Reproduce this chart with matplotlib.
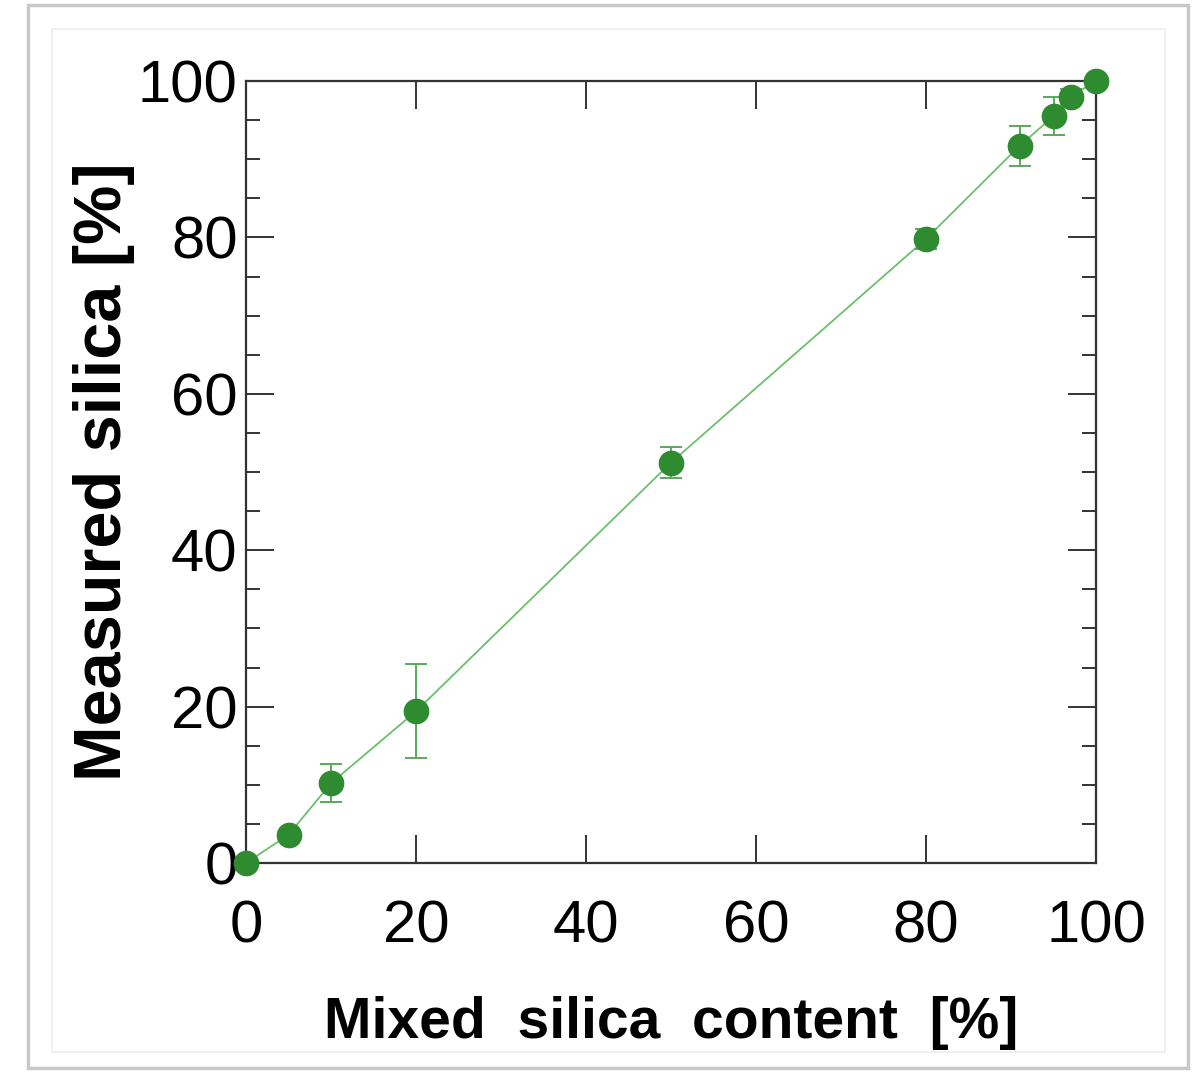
import matplotlib
matplotlib.use("Agg")
import matplotlib.pyplot as plt
from matplotlib.patches import Rectangle
from matplotlib.ticker import MultipleLocator

# Data
mixed = [0, 5, 10, 20, 50, 80, 91, 95, 97, 100]
measured = [0, 3.6, 10.2, 19.4, 51.2, 79.8, 91.7, 95.5, 98.0, 100]
err = [0, 0, 2.4, 6.0, 2.0, 1.3, 2.6, 2.4, 1.0, 0]

plt.rcParams['font.family'] = ['Liberation Sans', 'DejaVu Sans']

fig = plt.figure(figsize=(11.95, 10.74), dpi=100)

# frame round the figure
fig.patches.append(Rectangle((28/1195, 1-1068/1074), 1160/1195, 1063/1074,
                             transform=fig.transFigure, fill=False,
                             edgecolor='#c8c8c8', linewidth=2.5))
fig.patches.append(Rectangle((52/1195, 1-1052/1074), 1113/1195, 1023/1074,
                             transform=fig.transFigure, fill=False,
                             edgecolor='#eeeeee', linewidth=1.2))

ax = fig.add_axes([246/1195, 1-863/1074, 850/1195, 782/1074])

ax.plot(mixed, measured, color='#6cbf6c', linewidth=1.3, zorder=2)
ax.errorbar(mixed, measured, yerr=err, fmt='none', ecolor='#5aa85a',
            elinewidth=1.4, capsize=8, capthick=1.4, zorder=3)
ax.plot(mixed, measured, 'o', color='#2e8b30', markersize=18.5,
        markeredgewidth=0, clip_on=False, zorder=4)

ax.set_xlim(0, 100)
ax.set_ylim(0, 100)
ax.xaxis.set_major_locator(MultipleLocator(20))
ax.yaxis.set_major_locator(MultipleLocator(20))
ax.yaxis.set_minor_locator(MultipleLocator(5))

ax.tick_params(axis='both', which='both', direction='in', colors='#333333',
               labelcolor='black', top=True, right=True)
ax.tick_params(axis='both', which='major', length=20, width=1.4, labelsize=43)
ax.tick_params(axis='y', which='minor', length=10, width=1.4)
ax.tick_params(axis='x', which='major', pad=26)
ax.tick_params(axis='y', which='major', pad=6)

for s in ax.spines.values():
    s.set_linewidth(1.6)
    s.set_color('#333333')

ax.set_xlabel('Mixed  silica  content  [%]', fontsize=41, fontweight='bold',
              labelpad=30)
ax.set_ylabel('Measured silica [%]', fontsize=48, fontweight='bold',
              labelpad=2)

fig.savefig('out.png', dpi=100)
